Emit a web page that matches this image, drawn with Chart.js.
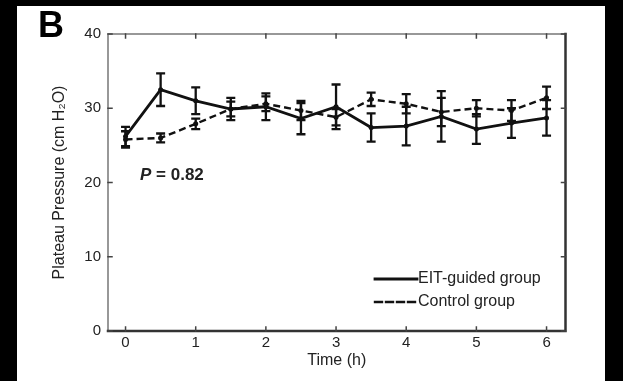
<!DOCTYPE html>
<html>
<head>
<meta charset="utf-8">
<script src="https://cdn.jsdelivr.net/npm/chart.js@4.4.0/dist/chart.umd.min.js"></script>
<style>
  html, body { margin: 0; padding: 0; background: #000; }
  #panel { position: absolute; left: 17px; top: 6px; width: 588px; height: 375px; background: #fff; }
</style>
</head>
<body>
<div id="panel"><canvas id="plateauChart" width="588" height="375"></canvas></div>
<script>
// time points (h) and group means / SD
const times = [0, 0.5, 1, 1.5, 2, 2.5, 3, 3.5, 4, 4.5, 5, 5.5, 6];
const eitMean = [26.2, 32.5, 31.0, 29.9, 30.2, 28.6, 30.2, 27.4, 27.6, 28.9, 27.2, 28.0, 28.7];
const eitErr = [1.3, 2.2, 1.8, 1.5, 1.8, 2.1, 3.0, 1.9, 2.6, 3.4, 2.0, 2.0, 2.4];
const ctrlMean = [25.8, 26.0, 27.9, 29.9, 30.6, 29.7, 28.8, 31.2, 30.6, 29.5, 30.0, 29.7, 31.4];
const ctrlErr = [1.1, 0.6, 0.7, 1.0, 1.0, 1.3, 1.1, 0.9, 1.3, 1.9, 1.1, 1.4, 1.5];
const xTicks = [0, 1, 2, 3, 4, 5, 6];
const yTicks = [0, 10, 20, 30, 40];
const pValue = '0.82';
const panelLabel = 'B';

const FONT = "'Liberation Sans', Arial, sans-serif";
const INK = '#111';

// error bars, box with inward ticks, legend and P value (matlab look)
const matlabBits = {
  id: 'matlabBits',
  afterDatasetsDraw(chart) {
    const ctx = chart.ctx;
    const xs = chart.scales.x, ys = chart.scales.y;
    chart.data.datasets.forEach(ds => {
      ctx.save();
      ctx.strokeStyle = INK;
      ctx.lineWidth = 2.3;
      ds.data.forEach((p, i) => {
        const px = xs.getPixelForValue(p.x);
        const hi = ys.getPixelForValue(p.y + ds.errors[i]);
        const lo = ys.getPixelForValue(p.y - ds.errors[i]);
        ctx.beginPath();
        ctx.moveTo(px, hi); ctx.lineTo(px, lo);
        ctx.moveTo(px - 4.5, hi); ctx.lineTo(px + 4.5, hi);
        ctx.moveTo(px - 4.5, lo); ctx.lineTo(px + 4.5, lo);
        ctx.stroke();
      });
      ctx.restore();
    });
  },
  afterDraw(chart) {
    const ctx = chart.ctx;
    const a = chart.chartArea;
    const xs = chart.scales.x, ys = chart.scales.y;
    ctx.save();
    // box
    ctx.lineCap = 'square';
    ctx.strokeStyle = '#777';
    ctx.lineWidth = 1.5;
    ctx.beginPath();
    ctx.moveTo(a.left, a.bottom); ctx.lineTo(a.left, a.top); ctx.lineTo(a.right, a.top);
    ctx.stroke();
    ctx.strokeStyle = '#333';
    ctx.lineWidth = 2.5;
    ctx.beginPath();
    ctx.moveTo(a.left, a.bottom); ctx.lineTo(a.right, a.bottom); ctx.lineTo(a.right, a.top);
    ctx.stroke();
    // inward ticks
    ctx.strokeStyle = '#444';
    ctx.lineWidth = 1.5;
    ctx.beginPath();
    xTicks.forEach(v => {
      const px = xs.getPixelForValue(v);
      ctx.moveTo(px, a.bottom); ctx.lineTo(px, a.bottom - 4);
      ctx.moveTo(px, a.top); ctx.lineTo(px, a.top + 4);
    });
    yTicks.forEach(v => {
      const py = ys.getPixelForValue(v);
      ctx.moveTo(a.left, py); ctx.lineTo(a.left + 4, py);
      ctx.moveTo(a.right, py); ctx.lineTo(a.right - 4, py);
    });
    ctx.stroke();

    // legend
    const lx = 358, ly = [273, 296];
    chart.data.datasets.forEach((ds, i) => {
      ctx.strokeStyle = INK;
      ctx.lineWidth = ds.borderWidth;
      ctx.setLineDash(ds.borderDash || []);
      ctx.beginPath();
      ctx.moveTo(lx, ly[i]); ctx.lineTo(lx + 42, ly[i]);
      ctx.stroke();
      ctx.setLineDash([]);
      ctx.fillStyle = '#222';
      ctx.font = '16px ' + FONT;
      ctx.textBaseline = 'middle';
      ctx.textAlign = 'left';
      ctx.fillText(ds.label, lx + 43, ly[i]);
    });

    // P value
    ctx.fillStyle = '#222';
    ctx.textBaseline = 'middle';
    ctx.font = 'italic bold 17px ' + FONT;
    ctx.fillText('P', 123, 169);
    const pw = ctx.measureText('P').width;
    ctx.font = 'bold 17px ' + FONT;
    ctx.fillText(' = ' + pValue, 123 + pw, 169);

    // panel letter
    ctx.fillStyle = '#000';
    ctx.font = 'bold 36px ' + FONT;
    ctx.textBaseline = 'alphabetic';
    ctx.fillText(panelLabel, 21, 31);
    ctx.restore();
  }
};

const tickFont = { family: FONT, size: 15 };
const titleFont = { family: FONT, size: 16 };

new Chart(document.getElementById('plateauChart'), {
  type: 'line',
  data: {
    datasets: [
      {
        label: 'EIT-guided group',
        data: times.map((t, i) => ({ x: t, y: eitMean[i] })),
        errors: eitErr,
        borderColor: INK,
        borderWidth: 2.8,
        borderDash: [],
        pointRadius: 2.5,
        pointBackgroundColor: INK,
        pointBorderWidth: 0,
        tension: 0
      },
      {
        label: 'Control group',
        data: times.map((t, i) => ({ x: t, y: ctrlMean[i] })),
        errors: ctrlErr,
        borderColor: INK,
        borderWidth: 2.4,
        borderDash: [7, 4],
        pointRadius: 2.5,
        pointBackgroundColor: INK,
        pointBorderWidth: 0,
        tension: 0
      }
    ]
  },
  options: {
    responsive: false,
    animation: false,
    layout: { padding: { left: 0, top: 28, right: 39.5, bottom: 0 } },
    plugins: { legend: { display: false }, tooltip: { enabled: false } },
    scales: {
      x: {
        type: 'linear',
        min: -0.25,
        max: 6.27,
        afterBuildTicks: s => { s.ticks = xTicks.map(v => ({ value: v })); },
        afterFit: s => { s.height = 50; },
        grid: { display: false, drawTicks: false },
        border: { display: false },
        ticks: { padding: 3, color: '#222', font: tickFont, maxRotation: 0 },
        title: { display: true, text: 'Time (h)', color: '#222', font: titleFont, padding: { top: 0, bottom: 11 } }
      },
      y: {
        min: 0,
        max: 40,
        afterBuildTicks: s => { s.ticks = yTicks.map(v => ({ value: v })); },
        afterFit: s => { s.width = 91; },
        grid: { display: false, drawTicks: false },
        border: { display: false },
        ticks: { padding: 7, color: '#222', font: tickFont },
        title: { display: true, text: 'Plateau Pressure (cm H\u2082O)', color: '#222', font: titleFont, padding: { top: 33, bottom: 0 } }
      }
    }
  },
  plugins: [matlabBits]
});
</script>
</body>
</html>
